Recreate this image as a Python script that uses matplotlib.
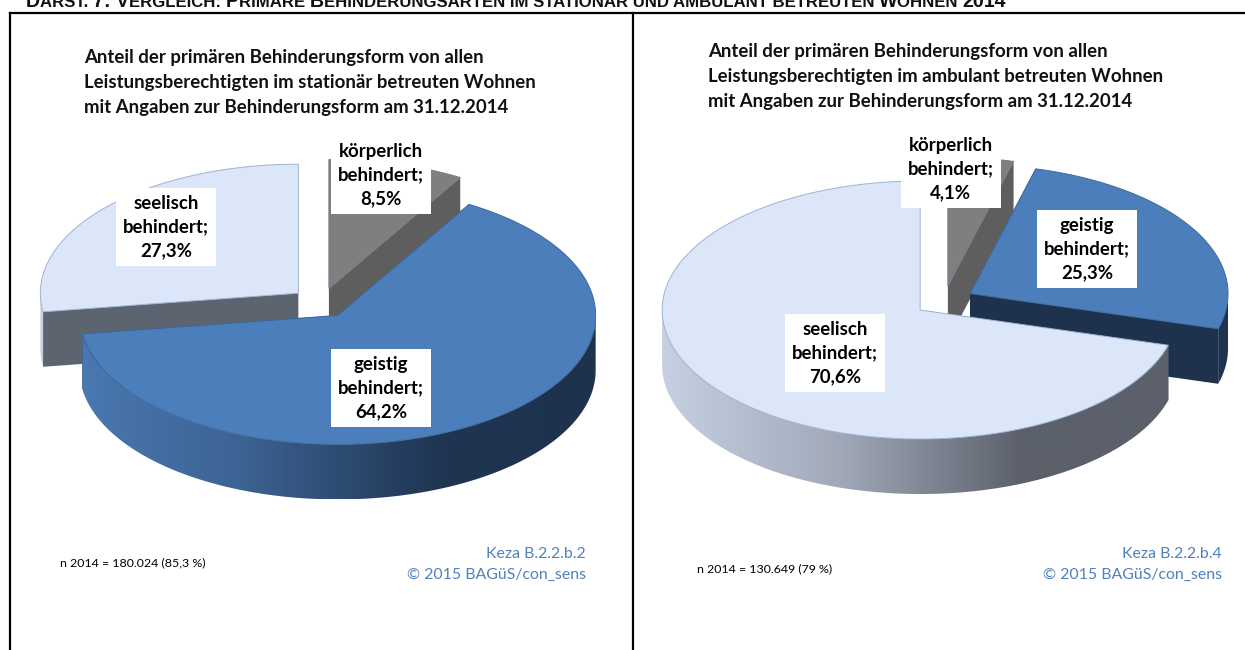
import numpy as np
import matplotlib
matplotlib.use("Agg")
import matplotlib.pyplot as plt
from matplotlib.patches import Polygon
from matplotlib.colors import LinearSegmentedColormap

# data
categories = ["körperlich", "geistig", "seelisch"]
shares_stationaer = [8.5, 64.2, 27.3]
shares_ambulant = [4.1, 25.3, 70.6]
title_stationaer = ["Anteil der primären Behinderungsform von allen",
                    "Leistungsberechtigten im stationär betreuten Wohnen",
                    "mit Angaben zur Behinderungsform am 31.12.2014"]
title_ambulant = ["Anteil der primären Behinderungsform von allen",
                  "Leistungsberechtigten im ambulant betreuten Wohnen",
                  "mit Angaben zur Behinderungsform am 31.12.2014"]
n_stationaer = "n 2014 = 180.024 (85,3 %)"
n_ambulant = "n 2014 = 130.649 (79 %)"
source_stationaer = ["Keza B.2.2.b.2", "© 2015 BAGüS/con_sens"]
source_ambulant = ["Keza B.2.2.b.4", "© 2015 BAGüS/con_sens"]

# styles
top_colors = {"körperlich": "#7f7f7f", "geistig": "#4c7ebb", "seelisch": "#dce6f9"}
cut_colors = {"körperlich": "#5e5e5e", "geistig": "#1e324e", "seelisch": "#5c6470"}
edge_colors = {"körperlich": "#6f7f90", "geistig": "#3c6a9e", "seelisch": "#9db3d3"}
wall_cmaps = {
    "körperlich": LinearSegmentedColormap.from_list("k", ["#5e5e5e", "#5e5e5e"]),
    "geistig": LinearSegmentedColormap.from_list(
        "g", [(0, "#4a78b0"), (0.3, "#3d6494"), (0.7, "#1f3552"), (1, "#1e324e")]),
    "seelisch": LinearSegmentedColormap.from_list(
        "s", [(0, "#c6d0e2"), (0.35, "#a0a8b8"), (0.7, "#5b606b"), (1, "#5b606b")]),
}
RX, RY, DEPTH, EXPLODE = 258, 129, 55, 0.116

plt.rcParams["font.family"] = "Lato"
fig = plt.figure(figsize=(12.45, 6.5), dpi=100)
ax = fig.add_axes([0, 0, 1, 1])
ax.set_xlim(0, 1245)
ax.set_ylim(650, 0)
ax.axis("off")


def rim(cx, cy, a0, a1, n=120):
    t = np.radians(np.linspace(a0, a1, n))
    return np.column_stack([cx + RX * np.sin(t), cy - RY * np.cos(t)])


def draw_pie(cx, cy, shares, order):
    """3D pie, angles run clockwise from 12 o'clock"""
    ends = np.cumsum(shares) * 360.0 / sum(shares)
    starts = ends - np.array(shares) * 360.0 / sum(shares)
    for name in order:
        i = categories.index(name)
        a0, a1 = starts[i], ends[i]
        mid = np.radians((a0 + a1) / 2)
        sx = cx + EXPLODE * RX * np.sin(mid)
        sy = cy - EXPLODE * RY * np.cos(mid)
        down = np.array([0, DEPTH])
        tip = np.array([[sx, sy]])
        # cut faces
        for a in (a0, a1):
            p = rim(sx, sy, a, a, 1)
            ax.add_patch(Polygon(np.vstack([tip, p, p + down, tip + down]),
                                 fc=cut_colors[name], ec="none"))
        # outer wall, only the front part can be seen
        v0, v1 = max(a0, 90), min(a1, 270)
        if v1 > v0:
            p = rim(sx, sy, v0, v1)
            wall = Polygon(np.vstack([p, (p + down)[::-1]]), fc="none", ec="none")
            ax.add_patch(wall)
            grad = np.linspace(0, 1, 256).reshape(1, -1)
            im = ax.imshow(grad, cmap=wall_cmaps[name], aspect="auto",
                           extent=[sx - RX, sx + RX, sy + RY + DEPTH, sy - RY],
                           zorder=1)
            im.set_clip_path(wall)
            wall.set_zorder(1)
        # top face
        p = rim(sx, sy, a0, a1)
        ax.add_patch(Polygon(np.vstack([tip, p]), fc=top_colors[name],
                             ec=edge_colors[name], lw=0.7, zorder=1))
    ax.set_xlim(0, 1245)
    ax.set_ylim(650, 0)


def draw_labels(shares, centers):
    for name, share, (x, y) in zip(categories, shares, centers):
        txt = name + "\nbehindert;\n" + f"{share:.1f}".replace(".", ",") + "%"
        ax.text(x, y, txt, ha="center", va="center", fontsize=13.4, fontweight="bold",
                color="black", linespacing=1.48, zorder=5,
                bbox=dict(fc="white", ec="none", pad=5))


def draw_header(x, y):
    # small caps header, big capitals and small letters are separate texts
    words = "Darst. 7: Vergleich: Primäre Behinderungsarten im stationär und ambulant betreuten Wohnen 2014"
    rend = fig.canvas.get_renderer()
    runs = []
    for ch in words:
        big = ch.isupper() or ch.isdigit()
        if runs and (runs[-1][1] == big or ch in " .:"):
            runs[-1][0] += ch
        else:
            runs.append([ch, big])
    for s, big in runs:
        if not big:
            s = s.upper()
        t = ax.text(x, y, s, family="Liberation Sans", fontweight="bold",
                    fontsize=14.1 if big else 12.1, ha="left", va="baseline", color="#111111")
        x += t.get_window_extent(rend).width


# frame
ax.plot([10, 10], [650, 12.5], color="black", lw=1.6)
ax.plot([10, 1245], [12.5, 12.5], color="black", lw=1.6)
ax.plot([633, 633], [12.5, 650], color="black", lw=1.6)

draw_header(26, 7)

draw_pie(321, 303, shares_stationaer, ["körperlich", "seelisch", "geistig"])
draw_pie(944, 301, shares_ambulant, ["körperlich", "geistig", "seelisch"])

draw_labels(shares_stationaer, [(381, 175), (381, 388), (166, 227)])
draw_labels(shares_ambulant, [(951, 169), (1087, 249), (835, 353)])

for i, line in enumerate(title_stationaer):
    ax.text(84, 57 + 25.5 * i, line, fontsize=13.4, fontweight="bold", va="center", color="#111111")
for i, line in enumerate(title_ambulant):
    ax.text(708, 51 + 25.5 * i, line, fontsize=13.4, fontweight="bold", va="center", color="#111111")

ax.text(60, 563, n_stationaer, fontsize=8.9, va="center", color="black")
ax.text(697, 569, n_ambulant, fontsize=8.9, va="center", color="black")
for i, line in enumerate(source_stationaer):
    ax.text(586, 554 + 21 * i, line, fontsize=11.4, ha="right", va="center", color="#4f81bd")
for i, line in enumerate(source_ambulant):
    ax.text(1222, 554 + 21 * i, line, fontsize=11.4, ha="right", va="center", color="#4f81bd")

fig.savefig("out.png", dpi=100)
